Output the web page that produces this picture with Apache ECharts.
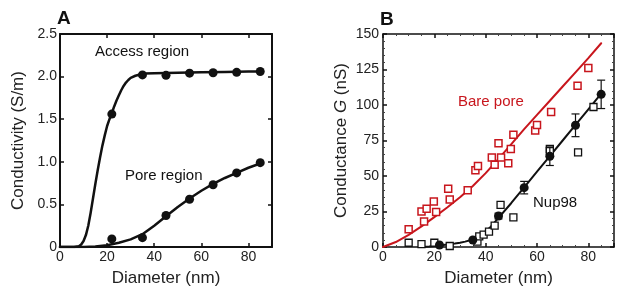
<!DOCTYPE html>
<html><head><meta charset="utf-8">
<script src="https://cdn.jsdelivr.net/npm/echarts@6/dist/echarts.min.js"></script>
<style>html,body{margin:0;padding:0;background:#fff}#c{width:617px;height:296px}</style>
</head><body><div id="c"></div>
<script>
// ---------- Panel A data ----------
const accessDotsX = [22, 35, 45, 55, 65, 75, 85];
const accessDotsY = [1.56, 2.02, 2.015, 2.04, 2.045, 2.05, 2.06];
const poreDotsX = [22, 35, 45, 55, 65, 75, 85];
const poreDotsY = [0.095, 0.11, 0.37, 0.56, 0.73, 0.87, 0.99];
const accessCurveX = [0, 6, 8, 9, 10, 11, 12, 13, 14, 15, 16, 17, 18, 19, 20, 21, 22, 23, 24, 25, 26, 27, 28, 29, 30, 32, 34, 36, 40, 50, 60, 70, 80, 85];
const accessCurveY = [0, 0, 0.01, 0.03, 0.07, 0.14, 0.25, 0.4, 0.57, 0.74, 0.9, 1.05, 1.19, 1.31, 1.42, 1.5, 1.57, 1.65, 1.72, 1.78, 1.84, 1.89, 1.93, 1.96, 1.985, 2.01, 2.025, 2.035, 2.04, 2.045, 2.05, 2.055, 2.06, 2.06];
const poreCurveX = [0, 10, 15, 20, 25, 30, 35, 40, 45, 50, 55, 60, 65, 70, 75, 80, 85];
const poreCurveY = [0, 0, 0.005, 0.02, 0.05, 0.09, 0.15, 0.25, 0.36, 0.47, 0.57, 0.66, 0.74, 0.81, 0.87, 0.93, 0.98];
const xTicksA = [0, 20, 40, 60, 80];
const yTicksA = ['0', '0.5', '1.0', '1.5', '2.0', '2.5'];

// ---------- Panel B data ----------
const bareX = [10, 15, 16, 17, 19.8, 20.7, 25.4, 26, 33, 36, 37, 42.4, 43.5, 45, 46, 48.8, 49.8, 50.8, 59.3, 60, 65.5, 75.8, 80];
const bareY = [12.5, 25, 18, 27, 32, 24.6, 41, 33.5, 40, 54, 57, 63, 58, 73, 63, 59, 69, 79, 82, 86, 95, 113.6, 126];
const bareCurveX = [0, 5, 10, 15, 20, 25, 30, 35, 40, 45, 50, 55, 60, 65, 70, 75, 80, 85];
const bareCurveY = [0, 3.5, 8.5, 14.5, 21, 27.8, 35, 43, 52, 62, 72.5, 83, 93, 103, 113, 123, 133, 143.5];
const nupSqX = [10, 15, 20, 26, 36.8, 37.5, 39.2, 41.3, 43.5, 45.8, 50.8, 65, 65, 76, 82];
const nupSqY = [3, 2, 3, 0.7, 3.8, 7.5, 8.7, 10.8, 15, 29.6, 20.9, 69, 67.5, 66.7, 98.6];
const nupDotX = [22, 35, 45, 55, 65, 75, 85];
const nupDotY = [1.4, 4.9, 21.8, 41.8, 63.9, 85.7, 107.5];
const nupErr = [0, 0, 2, 4.4, 6.5, 8, 10];
const nupCurveX = [15, 18, 20, 22, 25, 28, 30, 32, 35, 38, 40, 42, 45, 50, 55, 60, 65, 70, 75, 80, 85];
const nupCurveY = [0, 0.3, 0.7, 1.1, 1.7, 2.4, 3, 3.8, 5.3, 8.2, 11, 14.3, 20.5, 31, 42, 53, 64, 75, 86, 97, 108];
const xTicksB = [0, 20, 40, 60, 80];
const yTicksB = [0, 25, 50, 75, 100, 125, 150];

const zip = (xs, ys) => xs.map((x, i) => [x, ys[i]]);
const RED = '#c8161d';
const INK = '#111';
const FONT = 'Liberation Sans, Arial, sans-serif';

function xAx(grid, bottom, showLabels, lw, minor) {
  return {
    gridIndex: grid, type: 'value', min: 0, max: 90, interval: 20,
    position: bottom ? 'bottom' : 'top',
    axisLine: {show: true, onZero: false, lineStyle: {color: INK, width: lw}},
    axisTick: {show: true, inside: true, length: 4, lineStyle: {color: INK, width: 1.5}},
    minorTick: {show: !!minor, splitNumber: 4, length: 2, lineStyle: {color: '#444', width: 1}},
    splitLine: {show: false},
    axisLabel: {show: showLabels, margin: 3, fontSize: 14, color: '#222', fontFamily: FONT,
      formatter: v => (xTicksA.indexOf(v) >= 0 ? String(v) : '')},
    name: showLabels ? 'Diameter (nm)' : '', nameLocation: 'middle', nameGap: 23,
    nameTextStyle: {fontSize: 17, color: '#222', fontFamily: FONT}
  };
}

const lineS = (xi, yi, xs, ys, color, w) => ({
  type: 'line', xAxisIndex: xi, yAxisIndex: yi, data: zip(xs, ys),
  smooth: false, showSymbol: false, lineStyle: {color: color, width: w, cap: 'round', join: 'round'}, z: 2
});

const option = {
  animation: false,
  backgroundColor: '#fff',
  grid: [
    {left: 60, top: 34, width: 212, height: 213},
    {left: 383, top: 34, width: 233, height: 213}
  ],
  xAxis: [
    xAx(0, true, true, 2, false),
    xAx(0, false, false, 2, false),
    xAx(1, true, true, 1.5, true),
    xAx(1, false, false, 1.5, true)
  ],
  yAxis: [
    {gridIndex: 0, type: 'value', min: 0, max: 2.5, interval: 0.5, position: 'left',
     axisLine: {show: true, onZero: false, lineStyle: {color: INK, width: 2}},
     axisTick: {show: true, inside: true, length: 4, lineStyle: {color: INK, width: 1.5}},
     splitLine: {show: false},
     axisLabel: {margin: 3, fontSize: 14, color: '#222', fontFamily: FONT,
       formatter: v => yTicksA[Math.round(v * 2)]},
     name: 'Conductivity (S/m)', nameLocation: 'middle', nameGap: 33,
     nameTextStyle: {fontSize: 17, color: '#222', fontFamily: FONT}},
    {gridIndex: 0, type: 'value', min: 0, max: 2.5, interval: 0.5, position: 'right',
     axisLine: {show: true, onZero: false, lineStyle: {color: INK, width: 2}},
     axisTick: {show: true, inside: true, length: 4, lineStyle: {color: INK, width: 1.5}},
     splitLine: {show: false}, axisLabel: {show: false}},
    {gridIndex: 1, type: 'value', min: 0, max: 150, interval: 25, position: 'left',
     axisLine: {show: true, onZero: false, lineStyle: {color: INK, width: 1.5}},
     axisTick: {show: true, inside: true, length: 4, lineStyle: {color: INK, width: 1.5}},
     minorTick: {show: true, splitNumber: 5, length: 2, lineStyle: {color: '#444', width: 1}},
     splitLine: {show: false},
     axisLabel: {margin: 4, fontSize: 14, color: '#222', fontFamily: FONT,
       formatter: v => (yTicksB.indexOf(v) >= 0 ? String(v) : '')},
     name: 'Conductance {i|G} (nS)', nameLocation: 'middle', nameGap: 33,
     nameTextStyle: {fontSize: 17, color: '#222', fontFamily: FONT,
       rich: {i: {fontStyle: 'italic', fontSize: 17, color: '#222', fontFamily: FONT}}}},
    {gridIndex: 1, type: 'value', min: 0, max: 150, interval: 25, position: 'right',
     axisLine: {show: true, onZero: false, lineStyle: {color: INK, width: 1.5}},
     axisTick: {show: true, inside: true, length: 4, lineStyle: {color: INK, width: 1.5}},
     minorTick: {show: true, splitNumber: 5, length: 2, lineStyle: {color: '#444', width: 1}},
     splitLine: {show: false}, axisLabel: {show: false}}
  ],
  series: [
    // Panel A
    lineS(0, 0, accessCurveX, accessCurveY, INK, 2.5),
    lineS(0, 0, poreCurveX, poreCurveY, INK, 2.5),
    {type: 'scatter', xAxisIndex: 0, yAxisIndex: 0, data: zip(accessDotsX, accessDotsY),
     symbol: 'circle', symbolSize: 9, itemStyle: {color: INK, opacity: 1}, z: 3},
    {type: 'scatter', xAxisIndex: 0, yAxisIndex: 0, data: zip(poreDotsX, poreDotsY),
     symbol: 'circle', symbolSize: 9, itemStyle: {color: INK, opacity: 1}, z: 3},
    // Panel B
    lineS(2, 2, bareCurveX, bareCurveY, RED, 2),
    lineS(2, 2, nupCurveX, nupCurveY, INK, 2),
    {type: 'scatter', xAxisIndex: 2, yAxisIndex: 2, data: zip(bareX, bareY),
     symbol: 'rect', symbolSize: 7, itemStyle: {color: '#fff', borderColor: RED, borderWidth: 1.5, opacity: 1}, z: 3},
    {type: 'scatter', xAxisIndex: 2, yAxisIndex: 2, data: zip(nupSqX, nupSqY),
     symbol: 'rect', symbolSize: 7, itemStyle: {color: '#fff', borderColor: INK, borderWidth: 1.3, opacity: 1}, z: 3},
    {type: 'custom', xAxisIndex: 2, yAxisIndex: 2,
     data: nupDotX.map((x, i) => [x, nupDotY[i] - nupErr[i], nupDotY[i] + nupErr[i]]),
     renderItem: function (params, api) {
       const lo = api.coord([api.value(0), api.value(1)]);
       const hi = api.coord([api.value(0), api.value(2)]);
       if (Math.abs(hi[1] - lo[1]) < 1) return null;
       const w = 4;
       const st = {stroke: INK, lineWidth: 1.2};
       return {type: 'group', children: [
         {type: 'line', shape: {x1: lo[0], y1: lo[1], x2: hi[0], y2: hi[1]}, style: st},
         {type: 'line', shape: {x1: lo[0] - w, y1: lo[1], x2: lo[0] + w, y2: lo[1]}, style: st},
         {type: 'line', shape: {x1: hi[0] - w, y1: hi[1], x2: hi[0] + w, y2: hi[1]}, style: st}
       ]};
     }, z: 4},
    {type: 'scatter', xAxisIndex: 2, yAxisIndex: 2, data: zip(nupDotX, nupDotY),
     symbol: 'circle', symbolSize: 9, itemStyle: {color: INK, opacity: 1}, z: 5}
  ],
  graphic: [
    {type: 'text', left: 57, top: 9, style: {text: 'A', font: 'bold 19px ' + FONT, fill: '#111'}},
    {type: 'text', left: 380, top: 10, style: {text: 'B', font: 'bold 19px ' + FONT, fill: '#111'}},
    {type: 'text', left: 95, top: 44, style: {text: 'Access region', font: '15px ' + FONT, fill: '#111'}},
    {type: 'text', left: 125, top: 168, style: {text: 'Pore region', font: '15px ' + FONT, fill: '#111'}},
    {type: 'text', left: 458, top: 94, style: {text: 'Bare pore', font: '15px ' + FONT, fill: RED}},
    {type: 'text', left: 533, top: 195, style: {text: 'Nup98', font: '15px ' + FONT, fill: '#111'}}
  ]
};
const chart = echarts.init(document.getElementById('c'), null, {renderer: 'canvas'});
chart.setOption(option);
</script>
</body></html>
